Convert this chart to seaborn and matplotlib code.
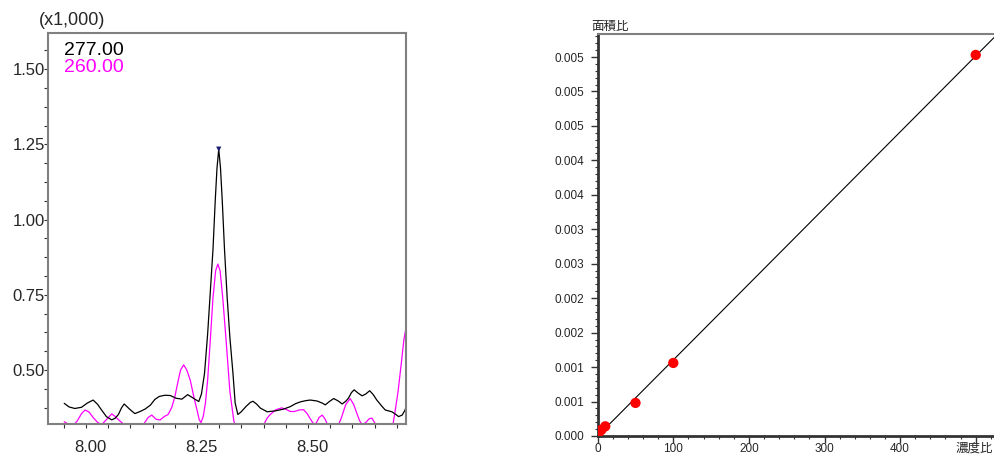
import numpy as np
import pandas as pd
import seaborn as sns
import matplotlib
matplotlib.use("Agg")
import matplotlib.pyplot as plt
from matplotlib.ticker import MultipleLocator, FixedLocator, FormatStrFormatter
from matplotlib.transforms import ScaledTranslation

# chromatogram traces (intensity in x1,000)
black_time = [7.951, 7.962, 7.975, 7.990, 8.003, 8.016, 8.026, 8.035, 8.046, 8.058,
              8.066, 8.073, 8.080, 8.086, 8.098, 8.110, 8.122, 8.133, 8.145, 8.155,
              8.165, 8.178, 8.190, 8.203, 8.216, 8.229, 8.242, 8.254, 8.260, 8.267,
              8.274, 8.280, 8.286, 8.291, 8.295, 8.299, 8.303, 8.307, 8.312, 8.318,
              8.324, 8.331, 8.336, 8.342, 8.349, 8.360, 8.370, 8.376, 8.384, 8.393,
              8.408, 8.420, 8.430, 8.445, 8.460, 8.472, 8.483, 8.495, 8.505, 8.520,
              8.532, 8.539, 8.548, 8.558, 8.568, 8.577, 8.585, 8.591, 8.598, 8.604,
              8.612, 8.622, 8.630, 8.639, 8.647, 8.655, 8.665, 8.674, 8.689, 8.698,
              8.704, 8.712, 8.718, 8.723]
black_int = [0.389, 0.377, 0.372, 0.376, 0.390, 0.400, 0.386, 0.367, 0.345, 0.334,
             0.340, 0.352, 0.374, 0.387, 0.370, 0.355, 0.362, 0.370, 0.383, 0.402,
             0.412, 0.416, 0.415, 0.406, 0.403, 0.418, 0.406, 0.395, 0.420, 0.489,
             0.620, 0.760, 0.900, 1.060, 1.170, 1.234, 1.170, 1.060, 0.900, 0.740,
             0.610, 0.489, 0.390, 0.352, 0.360, 0.378, 0.392, 0.396, 0.387, 0.373,
             0.361, 0.363, 0.365, 0.370, 0.378, 0.388, 0.394, 0.398, 0.400, 0.397,
             0.390, 0.384, 0.395, 0.405, 0.397, 0.387, 0.396, 0.406, 0.425, 0.434,
             0.424, 0.414, 0.420, 0.431, 0.418, 0.400, 0.382, 0.367, 0.361, 0.352,
             0.345, 0.350, 0.365, 0.384]

magenta_time = [7.951, 7.962, 7.971, 7.980, 7.990, 7.998, 8.007, 8.016, 8.026, 8.035,
                8.046, 8.058, 8.066, 8.075, 8.088, 8.100, 8.115, 8.129, 8.140, 8.148,
                8.158, 8.167, 8.176, 8.185, 8.193, 8.200, 8.207, 8.213, 8.220, 8.227,
                8.235, 8.243, 8.250, 8.255, 8.259, 8.264, 8.269, 8.274, 8.280, 8.286,
                8.292, 8.297, 8.302, 8.308, 8.316, 8.324, 8.333, 8.340, 8.360, 8.385,
                8.400, 8.408, 8.415, 8.428, 8.441, 8.452, 8.460, 8.470, 8.480, 8.490,
                8.498, 8.505, 8.512, 8.518, 8.525, 8.532, 8.538, 8.543, 8.550, 8.565,
                8.575, 8.585, 8.595, 8.603, 8.610, 8.616, 8.622, 8.630, 8.638, 8.644,
                8.650, 8.655, 8.670, 8.685, 8.691, 8.697, 8.703, 8.710, 8.716, 8.722]
magenta_int = [0.328, 0.318, 0.315, 0.330, 0.355, 0.367, 0.360, 0.342, 0.326, 0.318,
               0.335, 0.354, 0.345, 0.332, 0.316, 0.290, 0.295, 0.318, 0.342, 0.350,
               0.336, 0.334, 0.345, 0.352, 0.375, 0.410, 0.460, 0.500, 0.517, 0.500,
               0.465, 0.410, 0.367, 0.335, 0.325, 0.345, 0.390, 0.467, 0.600, 0.740,
               0.830, 0.852, 0.830, 0.740, 0.590, 0.430, 0.330, 0.300, 0.270, 0.285,
               0.317, 0.340, 0.352, 0.368, 0.374, 0.368, 0.362, 0.362, 0.367, 0.368,
               0.355, 0.338, 0.322, 0.322, 0.342, 0.350, 0.338, 0.322, 0.305, 0.305,
               0.340, 0.385, 0.405, 0.385, 0.356, 0.332, 0.318, 0.325, 0.338, 0.340,
               0.325, 0.312, 0.270, 0.290, 0.315, 0.370, 0.430, 0.520, 0.600, 0.650]

peak_time = [8.299]
peak_int = [1.234]

trace_names = ["277.00", "260.00"]
trace_colors = ["black", "#ff00ff"]

# calibration curve
conc_ratio = [2, 5, 10, 50, 100, 500]
area_ratio = [0.00006, 0.00009, 0.00014, 0.00048, 0.00106, 0.00553]

area_ticks = [0.0, 0.0005, 0.001, 0.0015, 0.002, 0.0025, 0.003, 0.0035, 0.004, 0.0045, 0.005, 0.0055]
area_tick_labels = ["0.000", "0.001", "0.001", "0.002", "0.002", "0.003",
                    "0.003", "0.004", "0.004", "0.005", "0.005", "0.005"]
conc_ticks = [0, 100, 200, 300, 400, 500]
conc_tick_labels = ["0", "100", "200", "300", "400", ""]

sns.set_style("ticks")
plt.rcParams['font.family'] = ['Liberation Sans', 'Noto Sans CJK JP', 'DejaVu Sans']

fig = plt.figure(figsize=(9.95, 4.55), dpi=100)
ax1 = fig.add_axes([0.0485, 0.0692, 0.3592, 0.8582])
ax2 = fig.add_axes([0.6007, 0.0418, 0.3993, 0.8835])

# ---- left: chromatogram ----
chrom = pd.concat([
    pd.DataFrame({"time": black_time, "intensity": black_int, "mz": trace_names[0]}),
    pd.DataFrame({"time": magenta_time, "intensity": magenta_int, "mz": trace_names[1]}),
])
sns.lineplot(data=chrom, x="time", y="intensity", hue="mz",
             hue_order=[trace_names[1], trace_names[0]],
             palette=dict(zip(trace_names, trace_colors)),
             estimator=None, linewidth=0.9, legend=False, ax=ax1)
sns.scatterplot(x=peak_time, y=peak_int, marker="v", color="#1a1a70", s=14,
                edgecolor="none", zorder=4, ax=ax1)

ax1.set_xlim(7.915, 8.72)
ax1.set_ylim(0.322, 1.62)
ax1.xaxis.set_major_locator(MultipleLocator(0.25))
ax1.xaxis.set_minor_locator(MultipleLocator(0.05))
ax1.yaxis.set_major_locator(MultipleLocator(0.25))
ax1.yaxis.set_minor_locator(MultipleLocator(0.0625))
ax1.xaxis.set_major_formatter(FormatStrFormatter("%.2f"))
ax1.yaxis.set_major_formatter(FormatStrFormatter("%.2f"))
ax1.tick_params(which="both", direction="out", length=3, width=0.8, color="#333333", labelsize=12)
ax1.tick_params(axis="x", pad=9)
ax1.tick_params(axis="y", pad=-0.7)
ax1.set_xlabel("")
ax1.set_ylabel("")
for s in ax1.spines.values():
    s.set_color("#808080")
    s.set_linewidth(1.5)
for lab in ax1.get_xticklabels():
    lab.set_transform(lab.get_transform() + ScaledTranslation(0.04, 0, fig.dpi_scale_trans))

fig.text(0.039, 0.955, "(x1,000)", fontsize=13, va="center")
fig.text(0.064, 0.879, trace_names[0], fontsize=14, color=trace_colors[0], va="baseline")
fig.text(0.064, 0.842, trace_names[1], fontsize=14, color=trace_colors[1], va="baseline")

# ---- right: calibration curve ----
ax2.set_xlim(0, 525.5)
ax2.set_ylim(0, 0.005834)
sns.regplot(x=conc_ratio, y=area_ratio, scatter=False, ci=None, truncate=False,
            line_kws=dict(color="black", linewidth=0.8), ax=ax2)
sns.scatterplot(x=conc_ratio, y=area_ratio, color="red", s=55, edgecolor="none",
                zorder=3, ax=ax2)
ax2.set_xlim(0, 525.5)
ax2.set_ylim(0, 0.005834)

ax2.xaxis.set_major_locator(FixedLocator(conc_ticks))
ax2.set_xticklabels(conc_tick_labels)
ax2.xaxis.set_minor_locator(MultipleLocator(20))
ax2.yaxis.set_major_locator(FixedLocator(area_ticks))
ax2.set_yticklabels(area_tick_labels)
ax2.yaxis.set_minor_locator(MultipleLocator(0.0001))
ax2.tick_params(which="major", direction="out", length=5, width=1, color="#333333", labelsize=8.5)
ax2.tick_params(which="minor", direction="out", length=2.5, width=0.8, color="#333333")
ax2.tick_params(axis="x", pad=0.3)
ax2.tick_params(axis="y", pad=4.8)
ax2.set_xlabel("")
ax2.set_ylabel("")
ax2.spines["right"].set_visible(False)
ax2.spines["top"].set_color("#808080")
ax2.spines["top"].set_linewidth(1.5)
for side in ["left", "bottom"]:
    ax2.spines[side].set_color("#333333")
    ax2.spines[side].set_linewidth(2)

fig.text(0.594, 0.927, "面積比", fontsize=9, va="bottom")
fig.text(0.960, 0.028, "濃度比", fontsize=9, va="top")

fig.savefig("out.png", dpi=100)
